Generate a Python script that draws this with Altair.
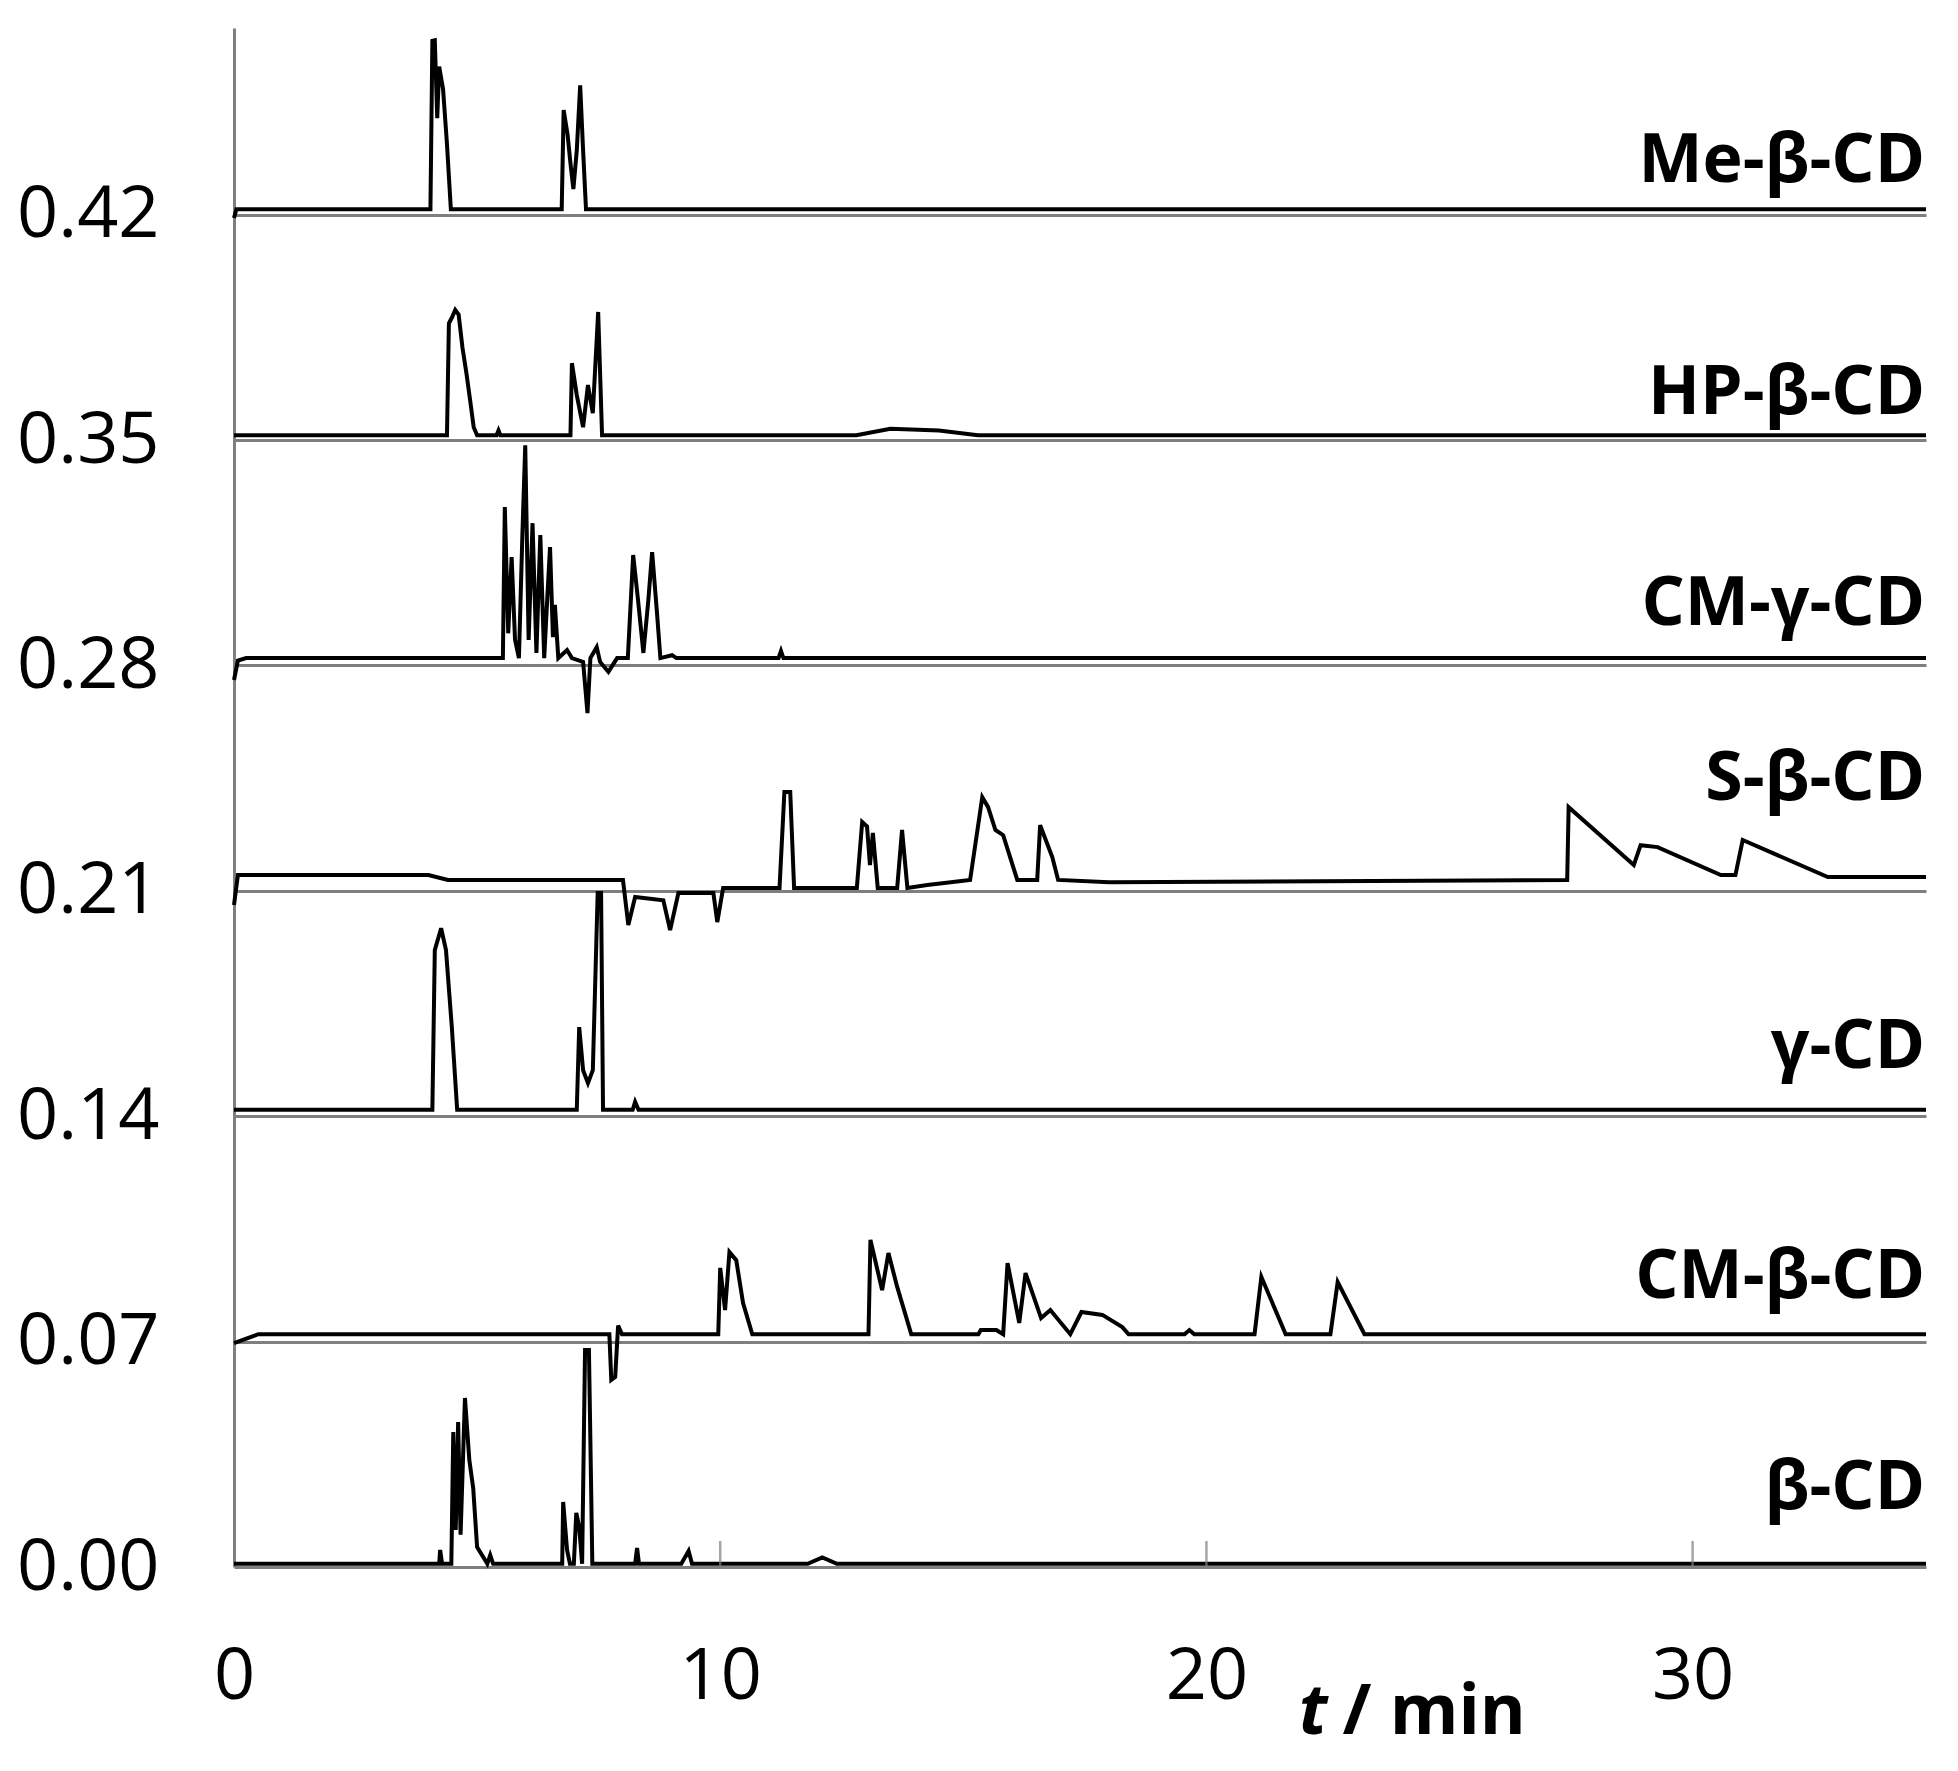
import pandas as pd
import altair as alt

# ---------------------------------------------------------------
# Electropherogram traces (t in min, signal offset per cyclodextrin)
# ---------------------------------------------------------------
SERIES = ["Me-β-CD", "HP-β-CD", "CM-γ-CD", "S-β-CD", "γ-CD", "CM-β-CD", "β-CD"]

me_t = [0.0, 0.05, 4.04, 4.08, 4.13, 4.18, 4.22, 4.30, 4.38, 4.46, 6.74, 6.78, 6.86, 6.92, 6.98, 7.05, 7.12, 7.18, 7.24, 34.8]
me_v = [0.419, 0.4217, 0.4217, 0.474, 0.4742, 0.450, 0.466, 0.459, 0.442, 0.4217, 0.4217, 0.4525, 0.445, 0.436, 0.428, 0.440, 0.4602, 0.440, 0.4217, 0.4217]

hp_t = [0.0, 4.38, 4.42, 4.48, 4.55, 4.62, 4.70, 4.78, 4.86, 4.93, 5.0, 5.40, 5.44, 5.48, 6.92, 6.95, 7.05, 7.18, 7.28, 7.38, 7.49, 7.57, 12.8, 13.5, 14.5, 15.3, 34.8]
hp_v = [0.3515, 0.3515, 0.3863, 0.388, 0.3904, 0.389, 0.3786, 0.3708, 0.362, 0.354, 0.3515, 0.3515, 0.353, 0.3515, 0.3515, 0.3739, 0.364, 0.354, 0.3671, 0.3584, 0.3898, 0.3515, 0.3515, 0.3535, 0.353, 0.3515, 0.3515]

cg_t = [0.0, 0.08, 0.25, 5.53, 5.57, 5.64, 5.71, 5.78, 5.86, 5.93, 5.99, 6.06, 6.14, 6.22, 6.30, 6.38, 6.44, 6.50, 6.56, 6.60, 6.67,
        6.85, 6.95, 7.18, 7.27, 7.33, 7.46, 7.53, 7.70, 7.88, 8.10, 8.21, 8.31, 8.42, 8.52, 8.60, 8.70, 8.77, 9.01, 9.10,
        11.20, 11.25, 11.30, 34.8]
cg_v = [0.2755, 0.2815, 0.2823, 0.2823, 0.3292, 0.290, 0.3137, 0.288, 0.2823, 0.320, 0.3484, 0.2879, 0.3242, 0.2839, 0.3205, 0.2823, 0.300, 0.3168, 0.2888, 0.2988, 0.2823,
        0.2848, 0.2823, 0.2811, 0.2652, 0.2823, 0.2857, 0.2811, 0.2780, 0.2823, 0.2823, 0.3143, 0.3003, 0.2839, 0.300, 0.3152, 0.2963, 0.2823, 0.2832, 0.2823,
        0.2823, 0.2845, 0.2823, 0.2823]

sb_t = [0.0, 0.08, 4.0, 4.4, 8.0, 8.11, 8.25, 8.83, 8.97, 9.14, 9.86, 9.94, 10.06, 11.22, 11.32, 11.44, 11.52, 12.81, 12.92, 13.02, 13.08, 13.14, 13.24,
        13.64, 13.74, 13.85, 14.26, 15.14, 15.39, 15.51, 15.66, 15.82, 16.11, 16.52, 16.58, 16.83, 16.95, 18.0, 27.42, 27.45, 28.79, 28.93, 29.28,
        30.58, 30.88, 31.03, 32.78, 34.8]
sb_v = [0.2056, 0.2149, 0.2149, 0.2134, 0.2134, 0.1994, 0.2081, 0.2071, 0.1978, 0.2093, 0.2093, 0.2003, 0.2109, 0.2109, 0.2407, 0.2407, 0.2109, 0.2109, 0.2314, 0.2300, 0.2180, 0.2280, 0.2109,
        0.2109, 0.2289, 0.2109, 0.2118, 0.2134, 0.2391, 0.2360, 0.2289, 0.2273, 0.2134, 0.2134, 0.2304, 0.2205, 0.2134, 0.2127, 0.2134, 0.2360, 0.2180, 0.2242, 0.2236,
        0.2149, 0.2149, 0.2258, 0.2143, 0.2143]

gc_t = [0.0, 4.08, 4.13, 4.26, 4.36, 4.48, 4.59, 7.05, 7.10, 7.18, 7.28, 7.38, 7.48, 7.55, 7.59, 8.20, 8.25, 8.32, 34.8]
gc_v = [0.1420, 0.1420, 0.1916, 0.1984, 0.1916, 0.1677, 0.1420, 0.1420, 0.1677, 0.1543, 0.1503, 0.1543, 0.2093, 0.2093, 0.1420, 0.1420, 0.1445, 0.1420, 0.1420]

cb_t = [0.0, 0.5, 7.72, 7.76, 7.84, 7.90, 7.98, 9.96, 10.0, 10.10, 10.19, 10.33, 10.47, 10.66, 13.05, 13.09, 13.33, 13.46, 13.64, 13.93,
        15.31, 15.36, 15.68, 15.82, 15.91, 16.15, 16.28, 16.60, 16.79, 17.20, 17.43, 17.86, 18.27, 18.40, 19.55, 19.65, 19.75,
        20.99, 21.13, 21.63, 22.55, 22.70, 23.25, 34.8]
cb_v = [0.0695, 0.0723, 0.0723, 0.0581, 0.0590, 0.0750, 0.0723, 0.0723, 0.0929, 0.0798, 0.0978, 0.0953, 0.0820, 0.0723, 0.0723, 0.1016, 0.0860, 0.0975, 0.0870, 0.0723,
        0.0723, 0.0736, 0.0736, 0.0723, 0.0944, 0.0758, 0.0913, 0.0773, 0.0798, 0.0723, 0.0792, 0.0783, 0.0745, 0.0723, 0.0723, 0.0736, 0.0723,
        0.0723, 0.0901, 0.0723, 0.0723, 0.0885, 0.0723, 0.0723]

bc_t = [0.0, 4.22, 4.24, 4.28, 4.47, 4.51, 4.56, 4.61, 4.66, 4.75, 4.84, 4.92, 5.0, 5.10, 5.21, 5.27, 5.33, 6.75, 6.77, 6.85, 6.91,
        6.99, 7.04, 7.10, 7.16, 7.22, 7.30, 7.37, 8.25, 8.29, 8.33, 9.20, 9.35, 9.42, 11.8, 12.1, 12.4, 34.8]
bc_v = [0.0010, 0.0010, 0.0053, 0.0010, 0.0010, 0.0419, 0.0115, 0.0450, 0.0100, 0.0525, 0.0332, 0.0245, 0.0062, 0.0037, 0.0010, 0.0037, 0.0010, 0.0010, 0.0202, 0.0053, 0.0010,
        0.0010, 0.0168, 0.0124, 0.0010, 0.0674, 0.0674, 0.0010, 0.0010, 0.0059, 0.0010, 0.0010, 0.0050, 0.0010, 0.0010, 0.0030, 0.0010, 0.0010]

# label anchor heights (signal units) for the series names on the right
label_v = [0.4301, 0.3580, 0.2925, 0.2382, 0.1550, 0.0835, 0.0180]
label_t = 34.78

y_ticks = [0.0, 0.07, 0.14, 0.21, 0.28, 0.35, 0.42]
x_ticks = [0, 10, 20, 30]
x_inner_ticks = [10, 20, 30]

# axis title pieces: italic "t" then "/ min"
title_parts = ["t", "/ min"]
title_t = [21.9, 22.8]
title_v = [-0.052, -0.052]


# ---------------------------------------------------------------
# Build long table
# ---------------------------------------------------------------
traces = [(me_t, me_v), (hp_t, hp_v), (cg_t, cg_v), (sb_t, sb_v), (gc_t, gc_v), (cb_t, cb_v), (bc_t, bc_v)]
frames = []
for name, (ts, vs) in zip(SERIES, traces):
    frames.append(pd.DataFrame({"series": name, "t": ts, "v": vs}))
df = pd.concat(frames, ignore_index=True)

labels_df = pd.DataFrame({"series": SERIES, "t": label_t, "v": label_v})
ticks_df = pd.DataFrame({"t": x_inner_ticks, "v": 0.0})
title_df = pd.DataFrame({"label": title_parts, "t": title_t, "v": title_v})

FONT = "Open Sans"
GRAY = "#7f7f7f"

x_enc = alt.X(
    "t:Q",
    scale=alt.Scale(domain=[0, 34.8], nice=False, zero=False),
    axis=alt.Axis(values=x_ticks, format="d", title=None, grid=False, domain=False,
                  ticks=False, tickSize=0, labelPadding=74, labelFontSize=72,
                  labelFlush=False, labelFont=FONT, labelColor="black"),
)
y_enc = alt.Y(
    "v:Q",
    scale=alt.Scale(domain=[0, 0.478], nice=False),
    axis=alt.Axis(values=y_ticks, format=".2f", title=None, grid=True, gridColor=GRAY,
                  gridWidth=3, domainColor=GRAY, domainWidth=3, ticks=False, tickSize=0,
                  labelFlush=False, labelPadding=75, labelFontSize=72, labelFont=FONT,
                  labelColor="black"),
)

lines = (
    alt.Chart(df)
    .mark_line(color="black", strokeWidth=4, strokeJoin="miter")
    .encode(x=x_enc, y=y_enc, detail="series:N")
)

inner_ticks = (
    alt.Chart(ticks_df)
    .mark_tick(orient="vertical", size=26, thickness=2.5, color=GRAY, yOffset=-13)
    .encode(x=x_enc, y=y_enc)
)

names = (
    alt.Chart(labels_df)
    .mark_text(align="right", baseline="alphabetic", font=FONT, fontWeight="bold",
               fontSize=68, color="black")
    .encode(x=x_enc, y=y_enc, text="series:N")
)

title_t_mark = (
    alt.Chart(title_df.iloc[[0]])
    .mark_text(align="left", baseline="alphabetic", font=FONT, fontWeight="bold",
               fontStyle="italic", fontSize=70, color="black")
    .encode(x=x_enc, y=y_enc, text="label:N")
)
title_rest = (
    alt.Chart(title_df.iloc[[1]])
    .mark_text(align="left", baseline="alphabetic", font=FONT, fontWeight="bold",
               fontSize=70, color="black")
    .encode(x=x_enc, y=y_enc, text="label:N")
)

chart = (
    alt.layer(lines, inner_ticks, names, title_t_mark, title_rest)
    .properties(
        width=1692,
        height=1539,
        padding={"left": 226, "top": 20, "right": 24, "bottom": 196},
        autosize=alt.AutoSizeParams(type="none"),
    )
    .configure_view(stroke=None)
)

chart.save("out.html", embed_options={"renderer": "svg", "actions": False})
